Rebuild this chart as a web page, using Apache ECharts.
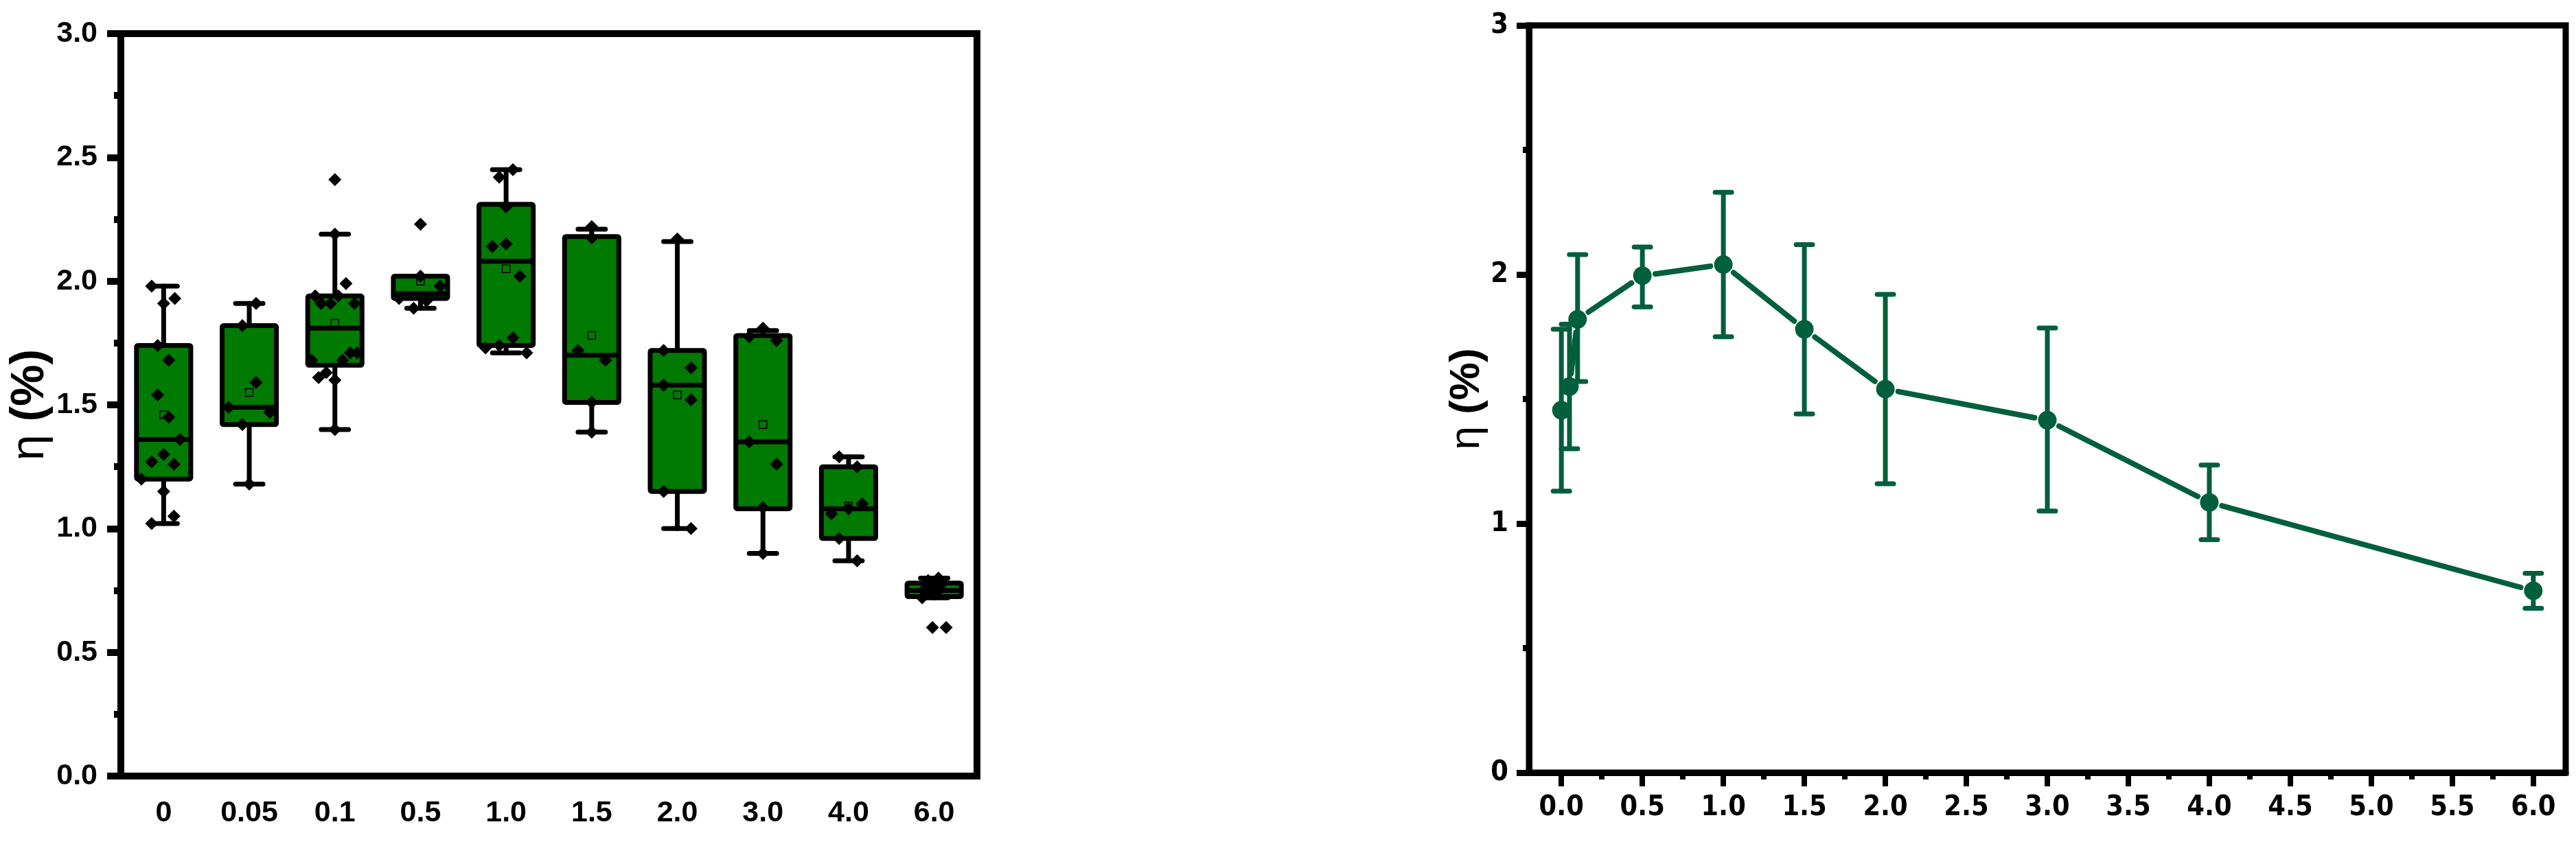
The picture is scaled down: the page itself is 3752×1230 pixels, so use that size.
<!DOCTYPE html>
<html>
<head>
<meta charset="utf-8">
<title>eta boxplot and mean curve</title>
<script src="https://cdn.jsdelivr.net/npm/echarts@6/dist/echarts.min.js"></script>
<style>
html, body { margin: 0; padding: 0; background: #fff; }
#chart { width: 3752px; height: 1230px; }
</style>
</head>
<body>
<div id="chart"></div>
<script>
// ---- left panel: box plot per concentration ----
var categories = ['0', '0.05', '0.1', '0.5', '1.0', '1.5', '2.0', '3.0', '4.0', '6.0'];
// [min, q1, median, q3, max]
var boxStats = [
    [1.02, 1.20, 1.36, 1.74, 1.98],
    [1.18, 1.42, 1.49, 1.82, 1.91],
    [1.40, 1.66, 1.81, 1.94, 2.19],
    [1.89, 1.93, 1.95, 2.02, 2.02],
    [1.71, 1.74, 2.08, 2.31, 2.45],
    [1.39, 1.51, 1.70, 2.18, 2.21],
    [1.00, 1.15, 1.58, 1.72, 2.16],
    [0.90, 1.08, 1.35, 1.78, 1.80],
    [0.87, 0.96, 1.08, 1.25, 1.29],
    [0.72, 0.725, 0.75, 0.78, 0.80]
];
var boxMeans = [1.46, 1.55, 1.83, 2.00, 2.05, 1.78, 1.54, 1.42, 1.09, 0.745];
// raw points of each group: [jitter offset in band units, value]
var pts0 = [[-0.14, 1.98], [0, 1.91], [0.13, 1.93], [-0.07, 1.74], [0.06, 1.68], [-0.07, 1.54], [0.06, 1.45],
    [0.19, 1.36], [0, 1.30], [-0.14, 1.27], [0.12, 1.26], [-0.26, 1.20], [0, 1.15], [0.12, 1.05], [-0.14, 1.02]];
var pts005 = [[0.08, 1.91], [-0.08, 1.82], [0.08, 1.59], [-0.24, 1.49], [0.24, 1.47], [-0.08, 1.42], [0, 1.18]];
var pts01 = [[0, 2.41], [0, 2.19], [0.13, 1.99], [-0.23, 1.94], [-0.16, 1.91], [-0.05, 1.91], [0.04, 1.94], [0.23, 1.91],
    [-0.27, 1.68], [0.09, 1.68], [0.18, 1.71], [0.26, 1.71], [-0.19, 1.61], [-0.10, 1.63], [0, 1.60], [0, 1.40]];
var pts05 = [[0, 2.23], [0, 2.02], [0.23, 1.98], [-0.25, 1.93], [0.07, 1.92], [-0.08, 1.89]];
var pts10 = [[0.08, 2.45], [-0.08, 2.42], [0, 2.30], [-0.16, 2.14], [0, 2.15], [0.16, 2.02], [0.08, 1.77],
    [-0.08, 1.74], [-0.24, 1.73], [0.24, 1.71]];
var pts15 = [[0, 2.22], [0, 2.175], [-0.16, 1.72], [0.16, 1.68], [0, 1.51], [0, 1.39]];
var pts20 = [[0, 2.17], [-0.16, 1.72], [0.16, 1.65], [-0.16, 1.58], [0.16, 1.52], [-0.16, 1.15], [0.16, 1.00]];
var pts30 = [[0, 1.81], [-0.16, 1.775], [0.16, 1.76], [-0.16, 1.35], [0.16, 1.26], [0, 1.085], [0, 0.90]];
var pts40 = [[-0.11, 1.29], [0.10, 1.25], [0.16, 1.10], [0, 1.08], [-0.20, 1.06], [-0.11, 0.96], [0.10, 0.87]];
var pts60 = [[0.05, 0.80], [-0.07, 0.79], [0.10, 0.78], [0, 0.77], [-0.10, 0.76], [0.05, 0.75], [-0.05, 0.74],
    [-0.14, 0.72], [-0.02, 0.60], [0.14, 0.60]];
var groupPoints = [pts0, pts005, pts01, pts05, pts10, pts15, pts20, pts30, pts40, pts60];

// ---- right panel: mean with error bars ----
var conc = [0, 0.05, 0.1, 0.5, 1.0, 1.5, 2.0, 3.0, 4.0, 6.0];
var meanEta = [1.455, 1.55, 1.82, 1.995, 2.04, 1.78, 1.54, 1.415, 1.085, 0.73];
var errHigh = [1.78, 1.80, 2.08, 2.11, 2.33, 2.12, 1.92, 1.785, 1.235, 0.80];
var errLow = [1.13, 1.30, 1.57, 1.87, 1.75, 1.44, 1.16, 1.05, 0.935, 0.66];
var rightMajorTicks = [0, 0.5, 1, 1.5, 2, 2.5, 3, 3.5, 4, 4.5, 5, 5.5, 6];
var rightMinorTicks = [0.25, 0.75, 1.25, 1.75, 2.25, 2.75, 3.25, 3.75, 4.25, 4.75, 5.25, 5.75];

var BOX_GREEN = '#007a00';
var LINE_GREEN = '#005f3c';
var LABEL_FONT = '"Liberation Sans", Arial, sans-serif';
var NARROW_FONT = '"Liberation Sans Narrow", "Arial Narrow", "DejaVu Sans Condensed", sans-serif';

var scatterData = [];
groupPoints.forEach(function (pts, g) {
    pts.forEach(function (p) {
        scatterData.push([g + p[0], p[1]]);
    });
});

function renderBox(params, api) {
    var i = api.value(0);
    var pMin = api.coord([i, api.value(1)]);
    var pQ1 = api.coord([i, api.value(2)]);
    var pMed = api.coord([i, api.value(3)]);
    var pQ3 = api.coord([i, api.value(4)]);
    var pMax = api.coord([i, api.value(5)]);
    var bw = api.size([1, 0])[0];
    var half = bw * 0.317, capHalf = bw * 0.16;
    var cx = pMed[0];
    var ls = { stroke: '#000', lineWidth: 7, lineCap: 'round' };
    return {
        type: 'group',
        children: [
            { type: 'line', shape: { x1: cx, y1: pMax[1], x2: cx, y2: pQ3[1] }, style: ls },
            { type: 'line', shape: { x1: cx, y1: pQ1[1], x2: cx, y2: pMin[1] }, style: ls },
            { type: 'line', shape: { x1: cx - capHalf, y1: pMax[1], x2: cx + capHalf, y2: pMax[1] }, style: ls },
            { type: 'line', shape: { x1: cx - capHalf, y1: pMin[1], x2: cx + capHalf, y2: pMin[1] }, style: ls },
            {
                type: 'rect',
                shape: { x: cx - half, y: pQ3[1], width: half * 2, height: pQ1[1] - pQ3[1], r: 2 },
                style: { fill: BOX_GREEN, stroke: '#000', lineWidth: 7, lineJoin: 'round' }
            },
            { type: 'line', shape: { x1: cx - half, y1: pMed[1], x2: cx + half, y2: pMed[1] }, style: { stroke: '#000', lineWidth: 7 } }
        ]
    };
}

function renderErr(params, api) {
    var x = api.value(0);
    var lo = api.coord([x, api.value(1)]);
    var hi = api.coord([x, api.value(2)]);
    var capHalf = 12;
    var ls = { stroke: LINE_GREEN, lineWidth: 7, lineCap: 'round' };
    return {
        type: 'group',
        children: [
            { type: 'line', shape: { x1: lo[0], y1: lo[1], x2: hi[0], y2: hi[1] }, style: { stroke: LINE_GREEN, lineWidth: 7 } },
            { type: 'line', shape: { x1: hi[0] - capHalf, y1: hi[1], x2: hi[0] + capHalf, y2: hi[1] }, style: ls },
            { type: 'line', shape: { x1: lo[0] - capHalf, y1: lo[1], x2: lo[0] + capHalf, y2: lo[1] }, style: ls }
        ]
    };
}

// line segments with a small gap round each marker (as in the original plot)
function renderGapLine(params, api) {
    var idx = params.dataIndex;
    if (idx === 0) return;
    var a = api.coord([conc[idx - 1], meanEta[idx - 1]]);
    var b = api.coord([conc[idx], meanEta[idx]]);
    var dx = b[0] - a[0], dy = b[1] - a[1];
    var len = Math.sqrt(dx * dx + dy * dy);
    var gap = 19;
    if (len <= gap * 2 + 2) return;
    var ux = dx / len, uy = dy / len;
    return {
        type: 'line',
        shape: { x1: a[0] + ux * gap, y1: a[1] + uy * gap, x2: b[0] - ux * gap, y2: b[1] - uy * gap },
        style: { stroke: LINE_GREEN, lineWidth: 8, lineCap: 'round' }
    };
}

var nameStyle = function (size) {
    return {
        color: '#000',
        fontFamily: LABEL_FONT,
        fontSize: size,
        rich: {
            e: { fontFamily: LABEL_FONT, fontSize: size, fontWeight: 'normal', color: '#000' },
            p: { fontFamily: LABEL_FONT, fontSize: size, fontWeight: 'bold', color: '#000' }
        }
    };
};

var option = {
    backgroundColor: '#fff',
    animation: false,
    grid: [
        { left: 176, top: 49, width: 1247, height: 1082, show: true, borderColor: '#000', borderWidth: 10, backgroundColor: 'transparent' },
        { left: 2227, top: 37, width: 1510, height: 1089, show: true, borderColor: '#000', borderWidth: 9, backgroundColor: 'transparent' }
    ],
    xAxis: [
        {
            gridIndex: 0, type: 'category', data: categories, position: 'bottom', boundaryGap: true,
            axisLine: { lineStyle: { color: '#000', width: 10 } },
            axisTick: { alignWithLabel: true, length: 21, lineStyle: { color: '#000', width: 10 } },
            axisLabel: { margin: 33, color: '#000', fontFamily: LABEL_FONT, fontWeight: 'bold', fontSize: 43 },
            splitLine: { show: false }
        },
        {
            gridIndex: 0, type: 'value', show: false, position: 'bottom', min: -0.5, max: 9.5
        },
        {
            gridIndex: 1, type: 'value', position: 'bottom', min: -0.2, max: 6.2,
            axisLine: { onZero: false, lineStyle: { color: '#000', width: 9 } },
            axisTick: { customValues: rightMajorTicks, length: 20, lineStyle: { color: '#000', width: 8 } },
            axisLabel: {
                customValues: rightMajorTicks, margin: 31, color: '#000', fontFamily: NARROW_FONT,
                fontWeight: 'bold', fontSize: 41,
                formatter: function (v) { return Number(v).toFixed(1); }
            },
            splitLine: { show: false }
        },
        {
            gridIndex: 1, type: 'value', position: 'bottom', min: -0.2, max: 6.2,
            axisLine: { show: false },
            axisTick: { customValues: rightMinorTicks, length: 10, lineStyle: { color: '#000', width: 8 } },
            axisLabel: { show: false },
            splitLine: { show: false }
        }
    ],
    yAxis: [
        {
            gridIndex: 0, type: 'value', min: 0, max: 3, interval: 0.5,
            name: '{e|η} {p|(%)}', nameLocation: 'middle', nameGap: 90, nameRotate: 90,
            nameTextStyle: nameStyle(68),
            axisLine: { show: true, onZero: false, lineStyle: { color: '#000', width: 10 } },
            axisTick: { show: true, length: 20, lineStyle: { color: '#000', width: 10 } },
            minorTick: { show: true, splitNumber: 2, length: 10, lineStyle: { color: '#000', width: 10 } },
            axisLabel: {
                margin: 34, color: '#000', fontFamily: LABEL_FONT, fontWeight: 'bold', fontSize: 43,
                formatter: function (v) { return Number(v).toFixed(1); }
            },
            splitLine: { show: false }
        },
        {
            gridIndex: 1, type: 'value', min: 0, max: 3, interval: 1,
            name: '{e|η} {p|(%)}', nameLocation: 'middle', nameGap: 58, nameRotate: 90,
            nameTextStyle: nameStyle(62),
            axisLine: { show: true, onZero: false, lineStyle: { color: '#000', width: 9 } },
            axisTick: { show: true, length: 18, lineStyle: { color: '#000', width: 9 } },
            minorTick: { show: true, splitNumber: 2, length: 9, lineStyle: { color: '#000', width: 9 } },
            axisLabel: { margin: 30, color: '#000', fontFamily: NARROW_FONT, fontWeight: 'bold', fontSize: 41 },
            splitLine: { show: false }
        }
    ],
    series: [
        {
            type: 'custom', xAxisIndex: 1, yAxisIndex: 0, z: 2,
            renderItem: renderBox,
            encode: { x: 0, y: [1, 2, 3, 4, 5] },
            data: boxStats.map(function (s, i) { return [i].concat(s); })
        },
        {
            type: 'scatter', xAxisIndex: 1, yAxisIndex: 0, z: 3,
            symbol: 'diamond', symbolSize: 19,
            itemStyle: { color: '#000', opacity: 1 },
            data: scatterData
        },
        {
            type: 'scatter', xAxisIndex: 1, yAxisIndex: 0, z: 4,
            symbol: 'rect', symbolSize: 11,
            itemStyle: { color: 'rgba(0,0,0,0)', borderColor: '#000', borderWidth: 1.5, opacity: 1 },
            data: boxMeans.map(function (m, i) { return [i, m]; })
        },
        {
            type: 'custom', xAxisIndex: 2, yAxisIndex: 1, z: 2,
            renderItem: renderErr,
            encode: { x: 0, y: [1, 2] },
            data: conc.map(function (x, i) { return [x, errLow[i], errHigh[i]]; })
        },
        {
            type: 'custom', xAxisIndex: 2, yAxisIndex: 1, z: 3,
            renderItem: renderGapLine,
            encode: { x: 0, y: 1 },
            data: conc.map(function (x, i) { return [x, meanEta[i]]; })
        },
        {
            type: 'scatter', xAxisIndex: 2, yAxisIndex: 1, z: 4,
            symbol: 'circle', symbolSize: 27,
            itemStyle: { color: LINE_GREEN, opacity: 1 },
            data: conc.map(function (x, i) { return [x, meanEta[i]]; })
        }
    ]
};

var chart = echarts.init(document.getElementById('chart'), null, { renderer: 'canvas' });
chart.setOption(option);
</script>
</body>
</html>
